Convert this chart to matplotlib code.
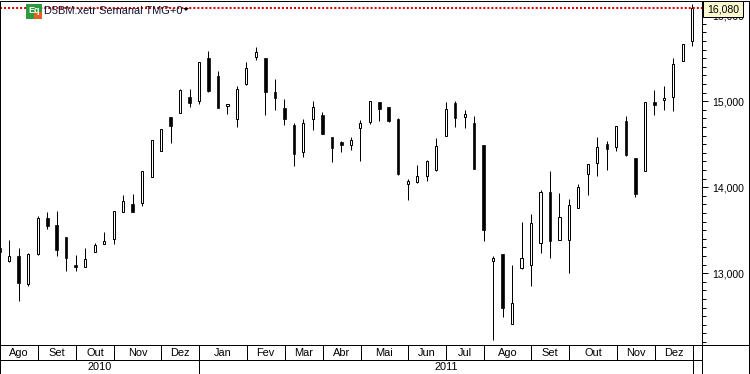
import matplotlib
matplotlib.use("Agg")
import matplotlib.pyplot as plt
from matplotlib.patches import Rectangle, Polygon

plt.rcParams['font.family'] = ['Liberation Sans', 'DejaVu Sans']

# weekly candles
opens = [13290, 13140, 13200, 12870, 13220, 13640, 13560, 13420, 13100, 13070,
         13240, 13340, 13400, 13710, 13800, 13810, 14120, 14420, 14810, 14860,
         15050, 15000, 15500, 15290, 14940, 14790, 15200, 15510, 15500, 15110,
         14920, 14720, 14410, 14790, 14840, 14580, 14520, 14490, 14690, 14760,
         14990, 14930, 14790, 14040, 14060, 14130, 14200, 14600, 14980, 14810,
         14740, 14490, 13140, 13220, 12410, 13060, 13100, 13350, 13940, 13380,
         13380, 13760, 14150, 14280, 14500, 14470, 14770, 14340, 14190, 14990,
         15010, 15050, 15470, 15700]
highs = [13290, 13380, 13290, 13230, 13660, 13710, 13720, 13420, 13210, 13290,
         13350, 13480, 13720, 13910, 13920, 14190, 14550, 14670, 14810, 15140,
         15140, 15450, 15580, 15350, 14970, 15170, 15450, 15630, 15500, 15260,
         15020, 14740, 14790, 15000, 14870, 14580, 14540, 14580, 14780, 15000,
         14990, 14930, 14800, 14090, 14260, 14310, 14570, 14990, 15000, 14900,
         14830, 14490, 13200, 13220, 13090, 13600, 13690, 13970, 14190, 13930,
         13860, 14040, 14270, 14580, 14540, 14710, 14830, 14340, 14990, 15130,
         15170, 15500, 15660, 16130]
lows = [13230, 13130, 12670, 12850, 13210, 13510, 13200, 13020, 13020, 13070,
        13240, 13340, 13340, 13710, 13710, 13780, 14120, 14420, 14510, 14860,
        14930, 14970, 15110, 14920, 14850, 14700, 15190, 15480, 14840, 14900,
        14720, 14240, 14350, 14660, 14620, 14290, 14410, 14430, 14300, 14730,
        14770, 14760, 14140, 13850, 14050, 14070, 14190, 14600, 14700, 14690,
        14210, 13370, 12220, 12490, 12410, 13050, 12850, 13230, 13170, 13380,
        13000, 13760, 13910, 14130, 14200, 14420, 14360, 13880, 14190, 14840,
        14900, 14880, 15470, 15640]
closes = [13240, 13200, 12880, 13220, 13640, 13550, 13270, 13170, 13070, 13160,
          13330, 13370, 13720, 13840, 13710, 14190, 14550, 14670, 14710, 15130,
          14980, 15450, 15120, 14920, 14970, 15140, 15380, 15570, 15110, 15040,
          14790, 14380, 14740, 14930, 14620, 14450, 14490, 14550, 14740, 15000,
          14910, 14770, 14150, 14070, 14130, 14300, 14480, 14910, 14800, 14850,
          14210, 13500, 13170, 12600, 12650, 13170, 13580, 13940, 13370, 13650,
          13790, 14000, 14270, 14470, 14440, 14710, 14370, 13920, 14990, 14950,
          15040, 15430, 15660, 16080]

last_price = 16080
price_ticks = [13000, 14000, 15000, 16000]
minor_ticks = list(range(12200, 16200, 100))

# candle index where each month starts
month_idx = [4, 8, 12, 17, 21, 26, 30, 34, 38, 43, 47, 51, 56, 60, 65, 69, 73]
months = ['Ago', 'Set', 'Out', 'Nov', 'Dez', 'Jan', 'Fev', 'Mar', 'Abr', 'Mai',
          'Jun', 'Jul', 'Ago', 'Set', 'Out', 'Nov', 'Dez']
year_idx = [21, 73]
years = ['2010', '2011']

W, H = 750, 374
STEP = 9.486
LW = 0.72  # one pixel at 100 dpi


def px_axes(fig, x0, y0, x1, y1):
    # axes from pixel box, y counted from the top
    return fig.add_axes([x0 / W, 1 - y1 / H, (x1 - x0) / W, (y1 - y0) / H])


fig = plt.figure(figsize=(7.5, 3.74), dpi=100, facecolor='white')

ax = px_axes(fig, 0, 1, 702, 345)
ax.set_xlim(0.2 / STEP, 702.2 / STEP)
ax.set_ylim(12164, 16164)

ax.set_xticks([])
ax.yaxis.tick_right()
ax.set_yticks(price_ticks)
ax.set_yticklabels([f'{p:,}' for p in price_ticks])
ax.set_yticks(minor_ticks, minor=True)
ax.tick_params(axis='y', which='major', length=4.3, width=LW, pad=2.9, labelsize=7.6, colors='black')
ax.tick_params(axis='y', which='minor', length=2.9, width=LW, colors='black')
for s in ['left', 'top', 'bottom']:
    ax.spines[s].set_visible(False)
ax.spines['right'].set_linewidth(LW)

for i in range(len(opens)):
    ax.vlines(i, lows[i], highs[i], color='black', lw=LW, zorder=2)
    low_body = min(opens[i], closes[i])
    h = abs(closes[i] - opens[i])
    if closes[i] >= opens[i]:
        ax.bar(i, h, 0.22, low_body, facecolor='white', edgecolor='black', lw=LW, zorder=3)
    else:
        ax.bar(i, h, 0.27, low_body, facecolor='black', edgecolor='black', lw=0.5, zorder=3)

ax.axhline(last_price, color='#e00000', lw=1.45, dashes=(1, 1), zorder=4)

fig.text(44 / W, 1 - 10.5 / H, 'D5BM.xetr Semanal TMG+0', fontsize=7.9,
         va='center', ha='left', color='#101030', zorder=5)
tri = Polygon([[183 / W, 1 - 8 / H], [189 / W, 1 - 8 / H], [186 / W, 1 - 11 / H]],
              transform=fig.transFigure, facecolor='black', edgecolor='none', zorder=6)
fig.add_artist(tri)

# small icon next to the title
fig.add_artist(Rectangle((26 / W, 1 - 19 / H), 16 / W, 15 / H, transform=fig.transFigure,
                         facecolor='#2e9a40', edgecolor='none', zorder=5))
fig.add_artist(Rectangle((34 / W, 1 - 19 / H), 8 / W, 7 / H, transform=fig.transFigure,
                         facecolor='#e0641e', edgecolor='none', zorder=6))
fig.text(28 / W, 1 - 10.5 / H, 'Eq', fontsize=6.5, color='white', fontweight='bold',
         va='center', ha='left', zorder=7)

# price label on the scale
fig.add_artist(Rectangle((703 / W, 1 - 17 / H), 40 / W, 16 / H, transform=fig.transFigure,
                         facecolor='#fbf8cf', edgecolor='black', lw=LW, zorder=8))
fig.text(723 / W, 1 - 9 / H, '16,080', fontsize=7.6, color='black', va='center', ha='center', zorder=9)

# month and year rows
ax2 = px_axes(fig, 0, 345, 749, 374)
ax2.set_xlim(0.2 / STEP, 749.2 / STEP)
ax2.set_ylim(2, 0)
ax2.set_xticks([])
ax2.set_yticks([])
ax2.axhline(1, color='black', lw=LW, xmax=702 / 749)
ax2.axvline(702.2 / STEP, color='black', lw=LW)
for sp in ax2.spines.values():
    sp.set_linewidth(LW)

edges = [0.07] + [m + 0.03 for m in month_idx]
for k, name in enumerate(months):
    ax2.vlines(edges[k + 1], 0, 1, color='black', lw=LW)
    ax2.text((edges[k] + edges[k + 1]) / 2, 0.52, name, fontsize=7.9, ha='center', va='center', color='black')
ax2.vlines(year_idx[0] + 0.03, 1, 2, color='black', lw=LW)
ax2.vlines(year_idx[1] + 0.03, 1, 2, color='black', lw=LW)
ax2.text(10.5, 1.52, years[0], fontsize=7.9, ha='center', va='center', color='black')
ax2.text(47.1, 1.52, years[1], fontsize=7.9, ha='center', va='center', color='black')

# outer frame
fig.add_artist(Rectangle((0, 0), 749 / W, 373 / H, transform=fig.transFigure,
                         facecolor='none', edgecolor='black', lw=LW, zorder=10))

fig.savefig('out.png', dpi=100)
